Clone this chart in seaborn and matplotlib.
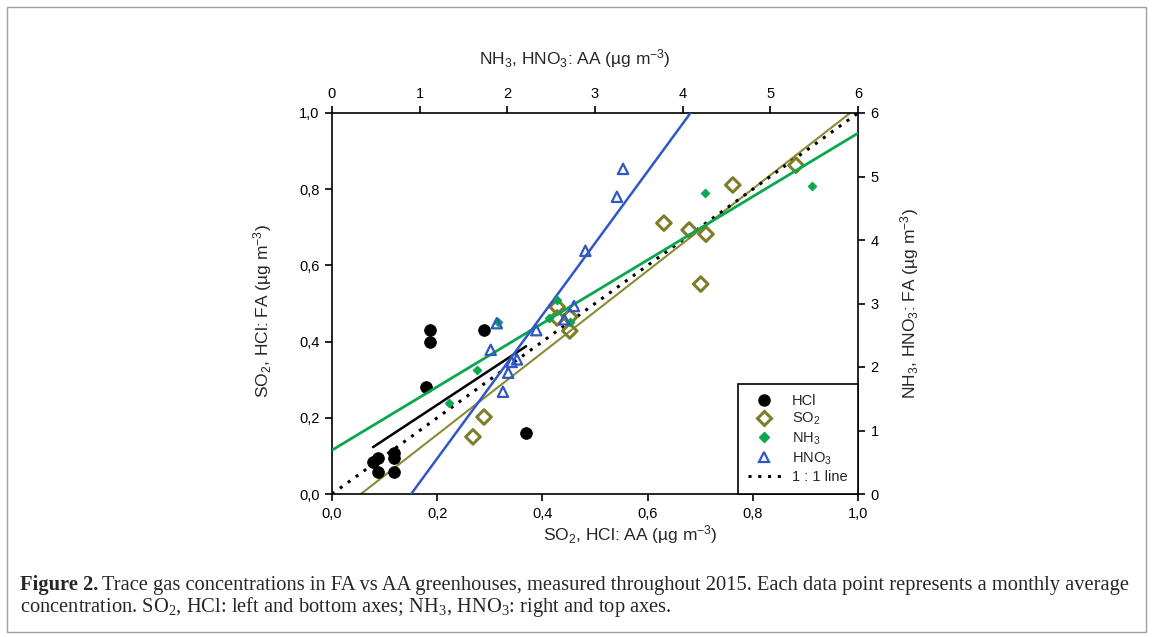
import numpy as np
import pandas as pd
import matplotlib
matplotlib.use("Agg")
import matplotlib.pyplot as plt
import seaborn as sns
from matplotlib.lines import Line2D
from matplotlib.ticker import FuncFormatter
from matplotlib.patches import Rectangle

# ---------------- data ----------------
# HCl and SO2: bottom (AA) / left (FA) axes, ug m-3
hcl_aa = [0.078, 0.088, 0.088, 0.118, 0.118, 0.118, 0.179, 0.186, 0.186, 0.289, 0.369]
hcl_fa = [0.084, 0.094, 0.058, 0.108, 0.095, 0.058, 0.281, 0.430, 0.400, 0.430, 0.160]
so2_aa = [0.268, 0.289, 0.428, 0.428, 0.452, 0.452, 0.631, 0.679, 0.711, 0.701, 0.762, 0.882]
so2_fa = [0.150, 0.202, 0.491, 0.462, 0.465, 0.428, 0.711, 0.693, 0.682, 0.551, 0.811, 0.863]
# NH3 and HNO3: top (AA) / right (FA) axes, ug m-3
nh3_aa = [1.34, 1.65, 1.89, 2.47, 2.57, 2.72, 4.25, 5.47]
nh3_fa = [1.43, 1.95, 2.71, 2.77, 3.05, 2.71, 4.74, 4.85]
hno3_aa = [1.88, 1.81, 1.95, 2.01, 2.05, 2.11, 2.33, 2.65, 2.76, 2.89, 3.25, 3.32]
hno3_fa = [2.69, 2.27, 1.61, 1.91, 2.08, 2.12, 2.58, 2.75, 2.96, 3.83, 4.68, 5.12]

# regression lines (slope, intercept) and drawn x-range
hcl_fit = (0.910, 0.052)
hcl_range = (0.078, 0.369)
so2_fit = (1.075, -0.059)
nh3_fit = (0.832, 0.69)
hno3_fit = (1.883, -1.70)

series_labels = ["HCl", r"$\mathregular{SO_2}$", r"$\mathregular{NH_3}$", r"$\mathregular{HNO_3}$", "1 : 1 line"]
left_ticks = [0.0, 0.2, 0.4, 0.6, 0.8, 1.0]
right_ticks = [0, 1, 2, 3, 4, 5, 6]

# ---------------- style ----------------
sns.set_style("ticks")
plt.rcParams["font.family"] = ["Liberation Sans", "DejaVu Sans"]
plt.rcParams["axes.linewidth"] = 1.2

OLIVE = "#7d7d2c"
OLIVE_LINE = "#8b8b35"
GREEN = "#0aa650"
BLUE = "#2f58c4"

fig = plt.figure(figsize=(11.53, 6.37), dpi=100)
fig.patch.set_facecolor("white")

pos = [332 / 1153, 1 - 494 / 637, (858 - 332) / 1153, (494 - 113) / 637]
ax = fig.add_axes(pos)
ax2 = fig.add_axes(pos, frameon=False)

# ---- primary axes: HCl, SO2 ----
xs = np.array(hcl_range)
sns.lineplot(x=xs, y=hcl_fit[0] * xs + hcl_fit[1], ax=ax, color="black", lw=1.8)
xs = np.array([0.0, 1.0])
sns.lineplot(x=xs, y=so2_fit[0] * xs + so2_fit[1], ax=ax, color=OLIVE_LINE, lw=1.5)
sns.lineplot(x=xs, y=xs, ax=ax, color="black", lw=2.2, linestyle=(0, (1, 2.2)))
sns.scatterplot(x=hcl_aa, y=hcl_fa, ax=ax, marker="o", color="black", s=70, edgecolor="black", zorder=5)
sns.scatterplot(x=so2_aa, y=so2_fa, ax=ax, marker="D", s=55, facecolor="none", edgecolor=OLIVE, linewidth=2.2, zorder=5)

ax.set_xlim(0, 1)
ax.set_ylim(0, 1)
ax.set_xticks(left_ticks)
ax.set_yticks(left_ticks)
fmt = FuncFormatter(lambda v, p: f"{v:.1f}".replace(".", ","))
ax.xaxis.set_major_formatter(fmt)
ax.yaxis.set_major_formatter(fmt)
ax.tick_params(direction="out", length=5, width=1.2, labelsize=10.5, colors="black", pad=4)
for s in ax.spines.values():
    s.set_visible(True)
    s.set_color("black")
ax.set_xlabel(r"$\mathregular{SO_2}$, HCl: AA (µg $\mathregular{m^{-3}}$)", fontsize=12.5, labelpad=2)
ax.xaxis.label.set_x(0.567)
ax.set_ylabel(r"$\mathregular{SO_2}$, HCl: FA (µg $\mathregular{m^{-3}}$)", fontsize=12.5, labelpad=18)
ax.yaxis.label.set_y(0.48)

# ---- secondary axes: NH3, HNO3 ----
xs2 = np.array([0.0, 6.0])
sns.lineplot(x=xs2, y=nh3_fit[0] * xs2 + nh3_fit[1], ax=ax2, color=GREEN, lw=2.0)
sns.lineplot(x=xs2, y=hno3_fit[0] * xs2 + hno3_fit[1], ax=ax2, color=BLUE, lw=1.8)
sns.scatterplot(x=nh3_aa, y=nh3_fa, ax=ax2, marker="D", s=22, color=GREEN, edgecolor=GREEN, zorder=5)
sns.scatterplot(x=hno3_aa, y=hno3_fa, ax=ax2, marker="^", s=55, facecolor="none", edgecolor=BLUE, linewidth=1.6, zorder=5)
ax2.set_xlim(0, 6)
ax2.set_ylim(0, 6)
ax2.set_xticks(right_ticks)
ax2.set_yticks(right_ticks)
ax2.xaxis.tick_top()
ax2.yaxis.tick_right()
ax2.xaxis.set_label_position("top")
ax2.yaxis.set_label_position("right")
ax2.tick_params(direction="out", length=5, width=1.2, labelsize=10.5, colors="black", pad=4)
ax2.set_xlabel(r"$\mathregular{NH_3}$, $\mathregular{HNO_3}$: AA (µg $\mathregular{m^{-3}}$)", fontsize=12.5, labelpad=16)
ax2.xaxis.label.set_x(0.462)
ax2.set_ylabel(r"$\mathregular{NH_3}$, $\mathregular{HNO_3}$: FA (µg $\mathregular{m^{-3}}$)", fontsize=12.5, labelpad=14)

# ---- legend ----
handles = [
    Line2D([], [], marker="o", color="black", ls="none", markersize=8),
    Line2D([], [], marker="D", mfc="none", mec=OLIVE, mew=2.2, ls="none", markersize=7),
    Line2D([], [], marker="D", color=GREEN, ls="none", markersize=5),
    Line2D([], [], marker="^", mfc="none", mec=BLUE, mew=1.6, ls="none", markersize=7),
    Line2D([], [], color="black", lw=2.2, ls=(0, (1, 2.2))),
]
leg = ax2.legend(handles, series_labels, loc="lower right", fontsize=10.5, frameon=True,
                 fancybox=False, borderaxespad=0, edgecolor="black", framealpha=1,
                 handlelength=2.2, handletextpad=0.8, labelspacing=0.22,
                 borderpad=0.7)
leg.get_frame().set_linewidth(1.2)
leg.set_zorder(20)

# ---- frame and caption ----
fig.patches.append(Rectangle((7 / 1153, 5 / 637), 1139 / 1153, 625 / 637, transform=fig.transFigure,
                             fill=False, edgecolor="#a0a0a0", lw=1.0))

cap_kw = dict(family=["Liberation Serif", "DejaVu Serif"], fontsize=14.8, va="baseline")
y1 = 1 - 590 / 637
y2 = 1 - 612 / 637
t0 = fig.text(20 / 1153, y1, "Figure 2.", fontweight="bold", **cap_kw)
fig.canvas.draw()
bb = t0.get_window_extent()
fig.text((bb.x1 + 4) / 1153, y1,
         "Trace gas concentrations in FA vs AA greenhouses, measured throughout 2015. Each data point represents a monthly average",
         **cap_kw)
fig.text(20 / 1153, y2,
         r"concentration. $\mathregular{SO_2}$, HCl: left and bottom axes; $\mathregular{NH_3}$, $\mathregular{HNO_3}$: right and top axes.",
         **cap_kw)

fig.savefig("out.png", dpi=100)
